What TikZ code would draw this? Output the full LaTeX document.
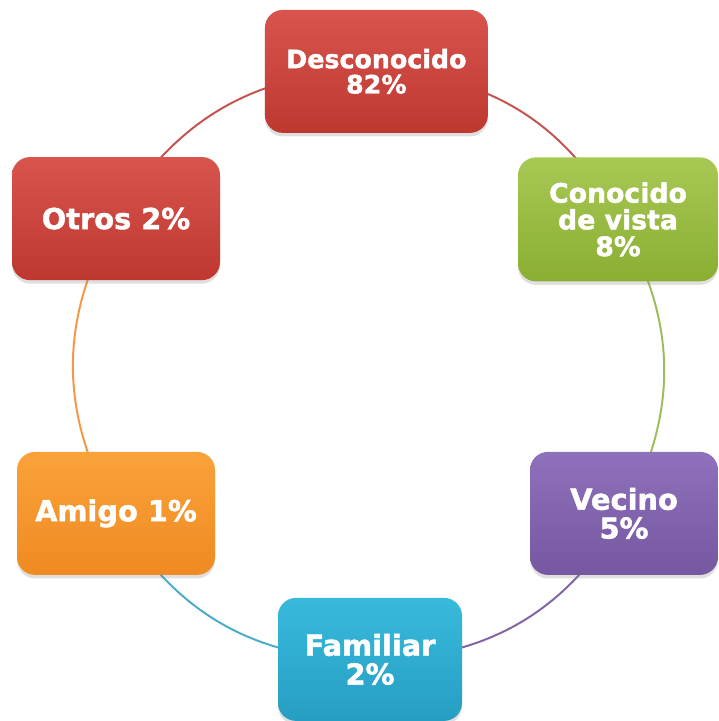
\documentclass[tikz,border=0pt]{standalone}
\usepackage{fontspec}
\setmainfont{DejaVu Sans}[BoldFeatures={FakeBold=1.6}]
\usetikzlibrary{shadows,backgrounds}

\definecolor{rojoA}{RGB}{216,84,76}
\definecolor{rojoB}{RGB}{190,56,48}
\definecolor{verdeA}{RGB}{168,200,84}
\definecolor{verdeB}{RGB}{138,174,50}
\definecolor{moradoA}{RGB}{143,112,188}
\definecolor{moradoB}{RGB}{117,88,160}
\definecolor{azulA}{RGB}{56,186,220}
\definecolor{azulB}{RGB}{38,158,194}
\definecolor{naranjaA}{RGB}{250,162,58}
\definecolor{naranjaB}{RGB}{240,138,34}
% colores de los arcos
\definecolor{rojoL}{RGB}{196,82,78}
\definecolor{verdeL}{RGB}{155,190,90}
\definecolor{moradoL}{RGB}{128,100,164}
\definecolor{azulL}{RGB}{75,172,200}
\definecolor{naranjaL}{RGB}{246,150,70}

\tikzset{
  etapa/.style={rectangle, rounded corners=0.45cm, text=white, align=center,
    inner sep=0pt, minimum height=3.075cm,
    drop shadow={opacity=0.25, shadow xshift=0pt, shadow yshift=-2.5pt}},
  chico/.style={font=\bfseries\fontsize{18}{18}\selectfont},
  medio/.style={font=\bfseries\fontsize{19}{19}\selectfont},
  grande/.style={font=\bfseries\fontsize{20.5}{20.5}\selectfont},
  rojo/.style={top color=rojoA, bottom color=rojoB},
  verde/.style={top color=verdeA, bottom color=verdeB},
  morado/.style={top color=moradoA, bottom color=moradoB},
  azul/.style={top color=azulA, bottom color=azulB},
  naranja/.style={top color=naranjaA, bottom color=naranjaB},
  arco/.style={line width=1.4pt},
}

\begin{document}
\begin{tikzpicture}
\useasboundingbox (0,0) rectangle (17.95,18.025);

\node[etapa, rojo, chico, minimum width=5.575cm] (desconocido) at (9.41,16.24) {Desconocido\\82\%};
\node[etapa, verde, medio, minimum width=5.0cm, minimum height=3.1cm] (conocido) at (15.45,12.54) {Conocido\\de vista\\8\%};
\node[etapa, morado, grande, minimum width=4.7cm] (vecino) at (15.6,5.19) {Vecino\\5\%};
\node[etapa, azul, grande, minimum width=4.6cm] (familiar) at (9.25,1.54) {Familiar\\2\%};
\node[etapa, naranja, grande, minimum width=4.95cm] (amigo) at (2.9,5.19) {Amigo 1\%};
\node[etapa, rojo, grande, minimum width=5.2cm] (otros) at (2.9,12.56) {Otros 2\%};

% ciclo
\begin{scope}[on background layer]
  \draw[arco, rojoL] (desconocido.center) to[bend left=30] (conocido.center);
  \draw[arco, verdeL] (conocido.center) to[bend left=30] (vecino.center);
  \draw[arco, moradoL] (vecino.center) to[bend left=30] (familiar.center);
  \draw[arco, azulL] (familiar.center) to[bend left=30] (amigo.center);
  \draw[arco, naranjaL] (amigo.center) to[bend left=30] (otros.center);
  \draw[arco, rojoL] (otros.center) to[bend left=30] (desconocido.center);
\end{scope}
\end{tikzpicture}
\end{document}
